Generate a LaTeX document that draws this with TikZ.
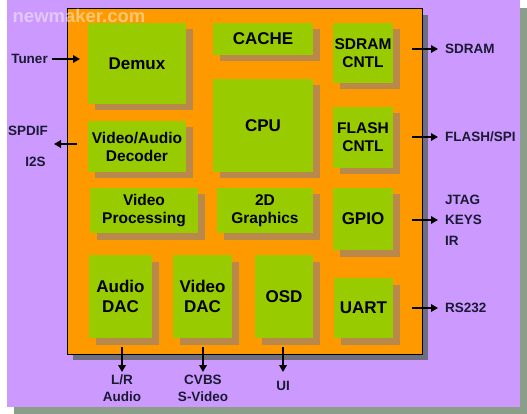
\documentclass[tikz,border=0pt]{standalone}
\usepackage{fontspec}
\setmainfont{Liberation Sans}
\usetikzlibrary{shadows,arrows.meta}
\definecolor{bgpurple}{HTML}{CC99FF}
\definecolor{bgshadow}{HTML}{8A9E8A}
\definecolor{chiporange}{HTML}{FF9900}
\definecolor{chipshadow}{HTML}{6E6E80}
\definecolor{blkgreen}{HTML}{99CC00}
\definecolor{blkshadow}{HTML}{B8894A}
\definecolor{sigtext}{HTML}{1A1A33}

\begin{document}
\begin{tikzpicture}[x=1pt,y=-1pt,
  blk/.style={fill=blkgreen, inner sep=0pt, align=center,
    font=\bfseries\fontsize{17}{20.5}\selectfont,
    drop shadow={shadow xshift=6.5pt, shadow yshift=-6.5pt, fill=blkshadow, opacity=1}},
  blksmall/.style={blk, font=\bfseries\fontsize{15.5}{18}\selectfont},
  sig/.style={inner sep=0pt, text=sigtext, align=center,
    font=\bfseries\fontsize{13.5}{17}\selectfont},
  pin/.style={-{Triangle[length=7pt,width=7.5pt]}, line width=2.2pt, black}]
\useasboundingbox (0,0) rectangle (527,414);

% background and chip
\fill[bgshadow] (14,8) rectangle (527,414);
\fill[bgpurple] (7,0) rectangle (520,407);
\fill[chipshadow] (73,15) rectangle (428,360);
\draw[fill=chiporange, line width=1pt] (67,9) rectangle (422,354);
\node[text=white, opacity=0.45, font=\bfseries\fontsize{18.5}{20}\selectfont, inner sep=0pt] (wm) at (79,16) {newmaker.com};

% blocks
\node[blk, minimum width=98pt, minimum height=81pt] (demux) at (137,63.5) {Demux};
\node[blk, minimum width=100pt, minimum height=32pt] (cache) at (263,39) {CACHE};
\node[blksmall, minimum width=60pt, minimum height=60pt] (sdram) at (363,53) {SDRAM\\CNTL};
\node[blk, minimum width=100pt, minimum height=93pt] (cpu) at (263,125.5) {CPU};
\node[blksmall, minimum width=60pt, minimum height=61pt] (flash) at (363,137.5) {FLASH\\CNTL};
\node[blksmall, minimum width=98pt, minimum height=51pt] (dec) at (137,146.5) {Video/Audio\\Decoder};
\node[blksmall, minimum width=108pt, minimum height=45pt] (vproc) at (144,210.5) {Video\\Processing};
\node[blksmall, minimum width=96pt, minimum height=45pt] (gfx) at (265,210.5) {2D\\Graphics};
\node[blk, minimum width=60pt, minimum height=62pt] (gpio) at (363,219) {GPIO};
\node[blk, minimum width=63pt, minimum height=83pt] (adac) at (120.5,296.5) {Audio\\DAC};
\node[blk, minimum width=59pt, minimum height=83pt] (vdac) at (202.5,296.5) {Video\\DAC};
\node[blk, minimum width=58pt, minimum height=83pt] (osd) at (284,296.5) {OSD};
\node[blk, minimum width=59pt, minimum height=60pt] (uart) at (363.5,308) {UART};

% signals left
\node[sig] (tuner) at (29.5,59) {Tuner};
\coordinate (tunin) at (80,59);
\draw[pin] ([xshift=4pt]tuner.east) -- (tunin);
\node[sig] (spdif) at (28,131) {SPDIF};
\node[sig] (iis) at (35.5,162) {I2S};
\coordinate (audtail) at (77,144);
\coordinate (audtip) at (54,144);
\draw[pin] (audtail) -- (audtip);

% signals right
\foreach \nm/\yy in {sdr/49,fls/137,gp/220,ur/308}{
  \coordinate (\nm out) at (412,\yy);
  \coordinate (\nm tip) at (438,\yy);
  \draw[pin] (\nm out) -- (\nm tip);
}
\node[sig, anchor=west] (sdramio) at (445,49) {SDRAM};
\node[sig, anchor=west] (flashio) at (445,137) {FLASH/SPI};
\node[sig, anchor=west] (jtag) at (445,200) {JTAG};
\node[sig, anchor=west] (keys) at (445,220) {KEYS};
\node[sig, anchor=west] (ir) at (445,241) {IR};
\node[sig, anchor=west] (rs) at (445,308) {RS232};

% signals bottom
\foreach \nm/\xx in {lr/122,cv/203,ui/283}{
  \coordinate (\nm out) at (\xx,347);
  \coordinate (\nm tip) at (\xx,372);
  \draw[pin] (\nm out) -- (\nm tip);
}
\node[sig] (lraud) at (122,388) {L/R\\Audio};
\node[sig] (cvbs) at (203,388) {CVBS\\S-Video};
\node[sig] (uiio) at (283,386) {UI};
\end{tikzpicture}
\end{document}
